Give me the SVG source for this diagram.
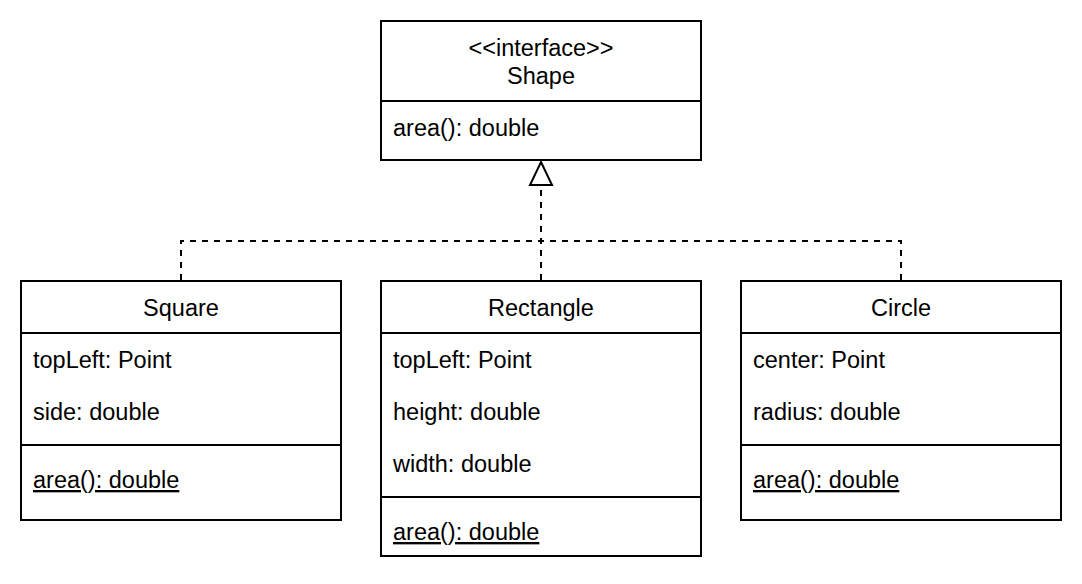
<svg xmlns="http://www.w3.org/2000/svg" width="1082" height="584" viewBox="0 0 1082 584">
<style>
.box{fill:#fff;stroke:#000;stroke-width:2}
.div{stroke:#000;stroke-width:2;fill:none}
text{font-family:"Liberation Sans",Arial,sans-serif;font-size:23.5px;fill:#000}
.c{text-anchor:middle}
.u{text-decoration:underline}
.conn{stroke:#000;stroke-width:2;fill:none;stroke-dasharray:6 6}
</style>
<rect width="1082" height="584" fill="#fff"/>
<g id="connectors">
<path class="conn" d="M181,280 V241 H901 V280"/>
<path class="conn" d="M541,280 V185"/>
<path d="M541,162 L552,185 L530,185 Z" fill="#fff" stroke="#000" stroke-width="2"/>
</g>
<g id="shape">
<rect class="box" x="381" y="21" width="320" height="139"/>
<line class="div" x1="381" y1="101" x2="701" y2="101"/>
<text class="c" x="541" y="56">&lt;&lt;interface&gt;&gt;</text>
<text class="c" x="541" y="84">Shape</text>
<text x="393" y="136">area(): double</text>
</g>
<g id="square">
<rect class="box" x="21" y="281" width="320" height="239"/>
<line class="div" x1="21" y1="333" x2="341" y2="333"/>
<line class="div" x1="21" y1="445" x2="341" y2="445"/>
<text class="c" x="181" y="316">Square</text>
<text x="33" y="368">topLeft: Point</text>
<text x="33" y="420">side: double</text>
<text class="u" x="33" y="488">area(): double</text>
</g>
<g id="rectangle">
<rect class="box" x="381" y="281" width="320" height="275"/>
<line class="div" x1="381" y1="333" x2="701" y2="333"/>
<line class="div" x1="381" y1="497" x2="701" y2="497"/>
<text class="c" x="541" y="316">Rectangle</text>
<text x="393" y="368">topLeft: Point</text>
<text x="393" y="420">height: double</text>
<text x="393" y="472">width: double</text>
<text class="u" x="393" y="540">area(): double</text>
</g>
<g id="circle">
<rect class="box" x="741" y="281" width="320" height="239"/>
<line class="div" x1="741" y1="333" x2="1061" y2="333"/>
<line class="div" x1="741" y1="445" x2="1061" y2="445"/>
<text class="c" x="901" y="316">Circle</text>
<text x="753" y="368">center: Point</text>
<text x="753" y="420">radius: double</text>
<text class="u" x="753" y="488">area(): double</text>
</g>
</svg>
